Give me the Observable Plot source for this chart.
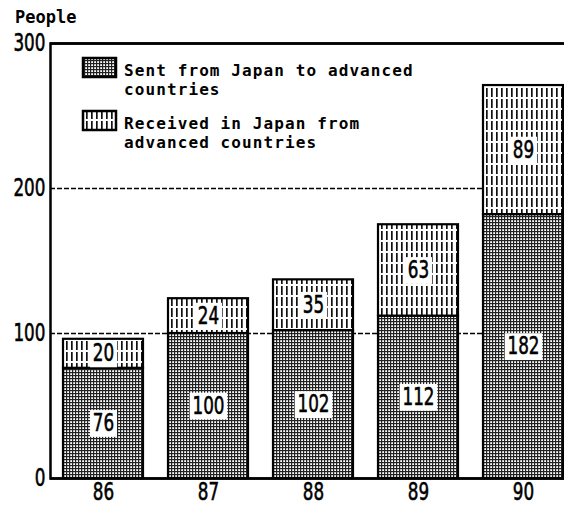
<!DOCTYPE html>
<html>
<head>
<meta charset="utf-8">
<script src="https://cdn.jsdelivr.net/npm/d3@7"></script>
<script src="https://cdn.jsdelivr.net/npm/@observablehq/plot@0.6"></script>
<style>
  html, body { margin: 0; padding: 0; background: white; }
</style>
</head>
<body>
<div id="chart"></div>
<script>
const years = ["86", "87", "88", "89", "90"];
const sent = [76, 100, 102, 112, 182];
const received = [20, 24, 35, 63, 89];
const seriesNames = [
  ["Sent from Japan to advanced", "countries"],
  ["Received in Japan from", "advanced countries"]
];
const yTicks = [0, 100, 200, 300];
const gridValues = [100, 200];

const rows = years.map((year, i) => ({
  year, sent: sent[i], received: received[i], total: sent[i] + received[i]
}));
const labels = rows.flatMap(r => [
  {year: r.year, y: r.sent / 2, text: String(r.sent)},
  {year: r.year, y: r.sent + r.received / 2, text: String(r.received)}
]);

const numFont = "'DejaVu Sans', sans-serif";
const monoFont = "'DejaVu Sans Mono', 'Liberation Mono', monospace";

const svg = Plot.plot({
  width: 564,
  height: 506,
  marginTop: 43,
  marginBottom: 28,
  marginLeft: 50,
  marginRight: -11,
  style: {fontFamily: numFont, fontSize: "24px", background: "white", color: "black"},
  x: {domain: years, paddingInner: 0.24, paddingOuter: 0.12, label: null, tickSize: 0, tickPadding: 4},
  y: {domain: [0, 300], ticks: yTicks, label: null, tickSize: 0, tickPadding: 5},
  marks: [
    Plot.ruleY(gridValues, {stroke: "black", strokeWidth: 1.5, strokeDasharray: "5,2"}),
    Plot.barY(rows, {x: "year", y1: 0, y2: "sent", fill: "url(#pSent)", stroke: "black", strokeWidth: 2.2}),
    Plot.barY(rows, {x: "year", y1: "sent", y2: "total", fill: "url(#pRecv)", stroke: "black", strokeWidth: 2.2}),
    Plot.text(labels, {x: "year", y: "y", text: "text", fill: "black", fontSize: 24, fontFamily: numFont}),
    Plot.ruleY([0, 300], {stroke: "black", strokeWidth: 2.5}),
    Plot.frame({stroke: "black", strokeWidth: 2.5})
  ]
});

document.getElementById("chart").appendChild(svg);
const s = d3.select(svg);

// condense all numeric texts horizontally (narrow printed digits)
function squeeze(el, sx) {
  const b = el.getBBox();
  const anchor = getComputedStyle(el).textAnchor;
  const p = anchor === "end" ? b.x + b.width : anchor === "start" ? b.x : b.x + b.width / 2;
  const t = el.getAttribute("transform") || "";
  el.setAttribute("transform", `${t} translate(${p},0) scale(${sx},1) translate(${-p},0)`);
  el.setAttribute("stroke", "black");
  el.setAttribute("stroke-width", 0.6);
}
s.selectAll("text").each(function() { squeeze(this, 0.7); });

// patterns
const defs = s.insert("defs", ":first-child");
const pS = defs.append("pattern").attr("id", "pSent").attr("patternUnits", "userSpaceOnUse")
  .attr("width", 3).attr("height", 3);
pS.append("rect").attr("width", 3).attr("height", 3).attr("fill", "#ffffff");
pS.append("rect").attr("width", 3).attr("height", 1.2).attr("fill", "#222");
pS.append("rect").attr("width", 1.2).attr("height", 3).attr("fill", "#222");
const pR = defs.append("pattern").attr("id", "pRecv").attr("patternUnits", "userSpaceOnUse")
  .attr("width", 5).attr("height", 11);
pR.append("rect").attr("width", 5).attr("height", 11).attr("fill", "#ffffff");
pR.append("rect").attr("x", 1).attr("width", 1.7).attr("height", 9).attr("fill", "#111");

// white boxes behind bar labels
s.selectAll("g[aria-label='text'] text").each(function() {
  const b = this.getBBox();
  const t = this.getAttribute("transform");
  d3.select(this.parentNode).insert("rect", () => this)
    .attr("transform", t)
    .attr("x", b.x - 4).attr("y", b.y + 1).attr("width", b.width + 8).attr("height", b.height - 1)
    .attr("fill", "white");
});

// y-axis unit label
s.append("text").attr("x", 15).attr("y", 23).text("People").attr("text-anchor", "start")
  .attr("font-family", monoFont).attr("font-weight", "bold").attr("font-size", 17);

// legend
const lg = s.append("g").attr("font-family", monoFont).attr("font-weight", "bold").attr("font-size", 16)
  .attr("letter-spacing", 1.1).attr("text-anchor", "start");
const legendFills = ["url(#pSent)", "url(#pRecv)"];
const legendTops = [58, 111];
seriesNames.forEach((lines, i) => {
  const top = legendTops[i];
  lg.append("rect").attr("x", 83).attr("y", top).attr("width", 33).attr("height", 19)
    .attr("fill", legendFills[i]).attr("stroke", "black").attr("stroke-width", 2.5);
  lines.forEach((ln, j) => {
    lg.append("text").attr("x", 124).attr("y", top + 18 + j * 19).text(ln);
  });
});
</script>
</body>
</html>
